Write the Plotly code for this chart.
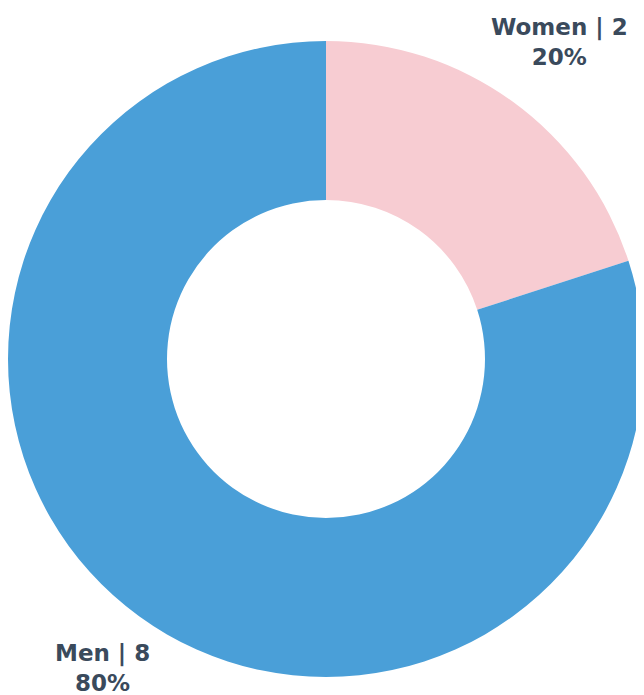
import plotly.graph_objects as go

labels = ["Women", "Men"]
values = [2, 8]
percents = ["20%", "80%"]
colors = ["#f7ccd2", "#4a9fd8"]

OFF = 8  # browser default body margin
PAGE_W, PAGE_H = 644, 695
W, H = PAGE_W - OFF, PAGE_H - OFF

fig = go.Figure(go.Pie(
    labels=labels,
    values=values,
    hole=0.5,
    sort=False,
    direction="clockwise",
    rotation=0,
    textinfo="none",
    hoverinfo="label+value+percent",
    marker=dict(colors=colors, line=dict(width=0)),
    domain=dict(x=[(8 - OFF) / W, (644 - OFF) / W],
                y=[(H - (677 - OFF)) / H, (H - (41 - OFF)) / H]),
    showlegend=False,
))

txt_color = "#3a4a5c"
font = dict(family="DejaVu Sans", size=23, color=txt_color)
ann_pos = [(559, 42), (102, 668)]
for (lab, v, p), (x, y) in zip(zip(labels, values, percents), ann_pos):
    fig.add_annotation(
        x=(x - OFF) / W, y=1 - (y - OFF) / H, xref="paper", yref="paper",
        text=f"<b>{lab} | {v}</b><br><b>{p}</b>",
        showarrow=False, font=font, align="center",
        xanchor="center", yanchor="middle",
    )

fig.update_layout(
    width=W, height=H,
    margin=dict(l=0, r=0, t=0, b=0),
    paper_bgcolor="white",
    plot_bgcolor="white",
)

fig.write_html("out.html")
